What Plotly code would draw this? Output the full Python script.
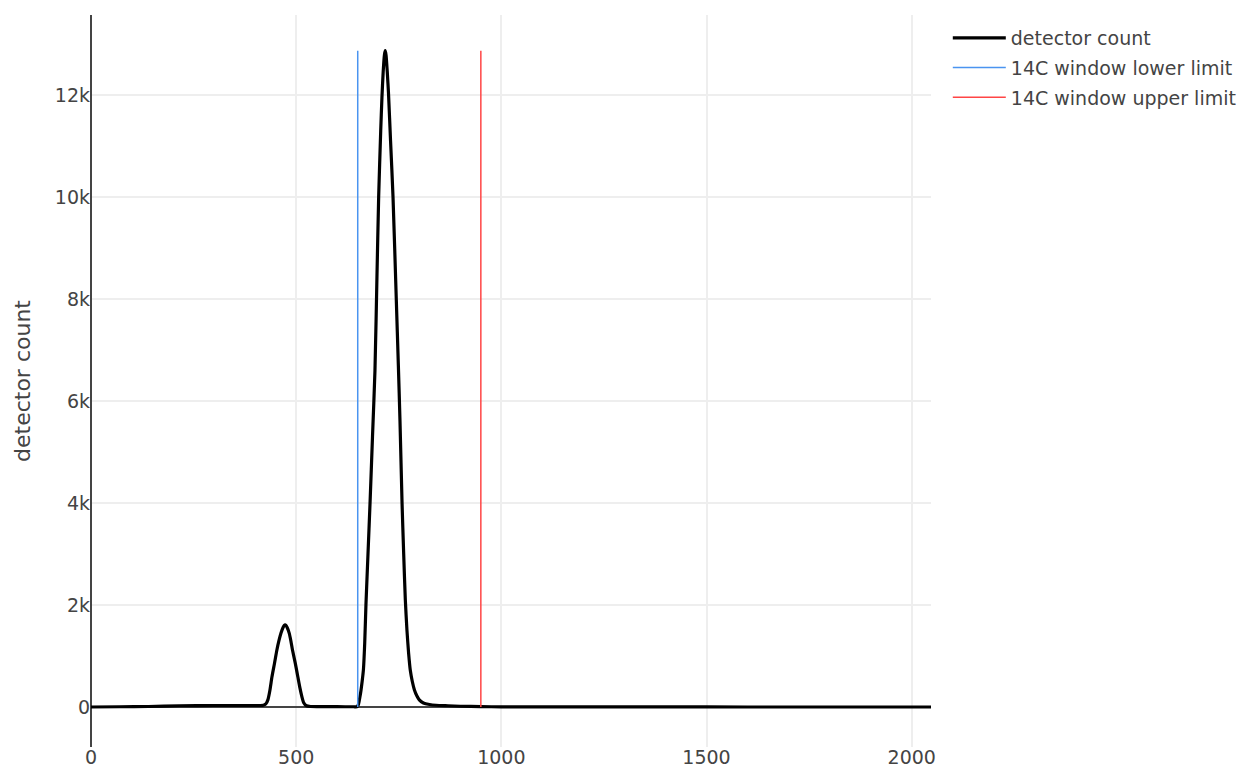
import plotly.graph_objects as go

# Spectrum (channel, counts)
channel = [0, 70, 140, 215, 300, 380, 420, 426, 431, 436, 441, 447, 453, 458, 463, 468, 471, 473,
           475, 478, 483, 487, 491, 498, 504, 509, 514, 518, 525, 535, 560, 600, 640, 648,
           650, 652, 655, 658, 661, 664, 667, 670, 675, 680, 686, 692, 697, 701, 706, 709, 712, 715, 717,
           719, 722, 725, 730, 736, 744, 749, 753, 758, 762, 766, 770, 774, 778, 783, 788, 794, 800, 810,
           825, 841, 870, 900, 950, 1000, 1100, 1300, 1500, 1700, 1900, 2047]
counts = [0, 5, 10, 25, 30, 30, 35, 60, 140, 330, 594, 850, 1118, 1300, 1450, 1560, 1600, 1610,
          1600, 1560, 1450, 1300, 1118, 850, 594, 380, 200, 90, 25, 10, 8, 6, 5, 5,
          20, 60, 180, 330, 520, 750, 1250, 2000, 3000, 4000, 5300, 6600, 8500, 10000, 11300, 11950, 12450, 12780, 12870,
          12780, 12450, 12030, 11100, 10000, 7980, 6700, 5600, 4000, 3000, 2100, 1500, 1050, 725, 500, 340, 220, 140, 80,
          50, 35, 25, 15, 8, 3, 2, 1, 1, 0, 0, 0]

lower_limit = 650
upper_limit = 950
limit_top = max(counts)

font_family = "DejaVu Sans, Verdana, Arial, sans-serif"

fig = go.Figure()
fig.add_trace(go.Scatter(x=channel, y=counts, mode="lines", name="detector count",
                         legendgroup="a",
                         line=dict(color="black", width=3.2, shape="spline", smoothing=0.6)))
fig.add_trace(go.Scatter(x=[lower_limit, lower_limit], y=[0, limit_top], mode="lines",
                         name="14C window lower limit", legendgroup="b",
                         line=dict(color="#4a94f0", width=1.5)))
fig.add_trace(go.Scatter(x=[upper_limit, upper_limit], y=[0, limit_top], mode="lines",
                         name="14C window upper limit", legendgroup="c",
                         line=dict(color="#ff4545", width=1.5)))

fig.update_layout(
    template="none",
    width=1245, height=767,
    margin=dict(l=83, r=322, t=7, b=28, autoexpand=False),
    paper_bgcolor="white", plot_bgcolor="white",
    font=dict(family=font_family, size=19, color="#444"),
    legend=dict(font=dict(size=19), x=1.02, y=0.9945, xanchor="left", yanchor="top",
                itemwidth=53, traceorder="grouped", tracegroupgap=2),
    xaxis=dict(range=[0, 2047], tickvals=[0, 500, 1000, 1500, 2000],
               showgrid=True, gridcolor="#eee", gridwidth=1.5,
               zeroline=True, zerolinecolor="#444", zerolinewidth=1.5,
               showline=False, ticks="", automargin=False,
               ticklabelstandoff=-3,
               tickfont=dict(size=19)),
    yaxis=dict(range=[-784, 13570], tickvals=[0, 2000, 4000, 6000, 8000, 10000, 12000],
               ticktext=["0", "2k", "4k", "6k", "8k", "10k", "12k"],
               showgrid=True, gridcolor="#eee", gridwidth=1.5,
               zeroline=True, zerolinecolor="#444", zerolinewidth=1.5,
               showline=False, ticks="", automargin=False,
               title=dict(text="detector count", font=dict(size=22), standoff=18),
               tickfont=dict(size=19)),
)

fig.write_html("out.html")
